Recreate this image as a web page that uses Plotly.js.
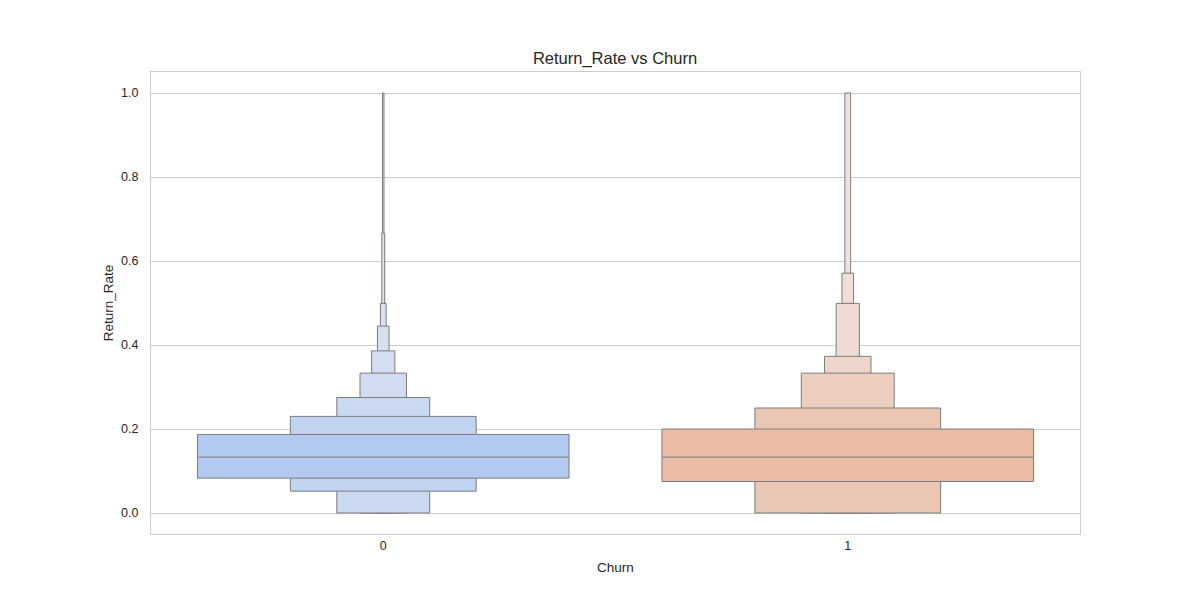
<!DOCTYPE html>
<html>
<head>
<meta charset="utf-8">
<script src="https://cdn.plot.ly/plotly-3.0.1.min.js"></script>
<style>html,body{margin:0;padding:0;background:#fff;}#chart{width:1200px;height:600px;}</style>
</head>
<body>
<div id="chart"></div>
<script>
// Categories (Churn) and letter-value box levels
const categories = ["0", "1"];
const churn0Upper = [0.187, 0.230, 0.275, 0.333, 0.386, 0.445, 0.499, 0.666, 1.0];
const churn0Lower = [0.083, 0.052, 0.0, 0.0, 0.0, 0.0, 0.0, 0.0, 0.0];
const churn0Median = 0.133;
const churn1Upper = [0.200, 0.250, 0.333, 0.373, 0.499, 0.571, 1.0];
const churn1Lower = [0.075, 0.0, 0.0, 0.0, 0.0, 0.0, 0.0];
const churn1Median = 0.133;

const churn0Colors = ["rgb(180,201,242)", "rgb(195,211,242)", "rgb(203,216,242)", "rgb(209,220,241)", "rgb(213,222,240)", "rgb(216,224,240)", "rgb(218,225,240)", "rgb(220,226,240)", "rgb(221,227,240)"];
const churn1Colors = ["rgb(234,187,165)", "rgb(234,199,181)", "rgb(237,207,193)", "rgb(238,214,204)", "rgb(239,219,211)", "rgb(240,222,215)", "rgb(240,224,218)"];

const edge = "rgb(125,125,125)";
const fullWidth = 0.8;

const series = [
  {upper: churn0Upper, lower: churn0Lower, median: churn0Median, colors: churn0Colors},
  {upper: churn1Upper, lower: churn1Lower, median: churn1Median, colors: churn1Colors}
];

const traces = [];
series.forEach((s, ci) => {
  for (let k = s.upper.length - 1; k >= 0; k--) {
    traces.push({
      type: "bar",
      x: [ci],
      base: [s.lower[k]],
      y: [s.upper[k] - s.lower[k]],
      width: [fullWidth / Math.pow(2, k)],
      marker: {color: s.colors[k], line: {color: edge, width: 1}},
      hoverinfo: "skip",
      showlegend: false
    });
  }
});
series.forEach((s, ci) => {
  traces.push({
    type: "scatter",
    mode: "lines",
    x: [ci - fullWidth / 2, ci + fullWidth / 2],
    y: [s.median, s.median],
    line: {color: edge, width: 1},
    hoverinfo: "skip",
    showlegend: false
  });
});

const font = "'Liberation Sans', Arial, sans-serif";
const layout = {
  width: 1200, height: 600,
  margin: {l: 151, r: 120, t: 72, b: 66},
  paper_bgcolor: "#fff", plot_bgcolor: "#fff",
  barmode: "overlay",
  bargap: 0,
  font: {family: font, color: "#262626", size: 12.5},
  title: {text: "Return_Rate vs Churn", x: 0.5125, xanchor: "center", y: 0.903, yanchor: "middle", font: {family: font, size: 16.5, color: "#262626"}},
  xaxis: {
    range: [-0.5, 1.5], tickvals: [0, 1], ticktext: categories,
    showgrid: false, zeroline: false,
    showline: true, mirror: true, linecolor: "#cccccc", linewidth: 1,
    ticks: "", tickfont: {size: 12.5, color: "#262626"},
    title: {text: "Churn", font: {size: 13.5, color: "#262626"}, standoff: 10}
  },
  yaxis: {
    range: [-0.05, 1.05], tickvals: [0, 0.2, 0.4, 0.6, 0.8, 1.0], tickformat: ".1f",
    showgrid: true, gridcolor: "#cccccc", gridwidth: 1, zeroline: false,
    showline: true, mirror: true, linecolor: "#cccccc", linewidth: 1,
    ticks: "outside", ticklen: 9, tickcolor: "rgba(0,0,0,0)", tickfont: {size: 12.5, color: "#262626"},
    title: {text: "Return_Rate", font: {size: 13.5, color: "#262626"}, standoff: 4}
  }
};

Plotly.newPlot("chart", traces, layout, {staticPlot: true, displayModeBar: false});
</script>
</body>
</html>
